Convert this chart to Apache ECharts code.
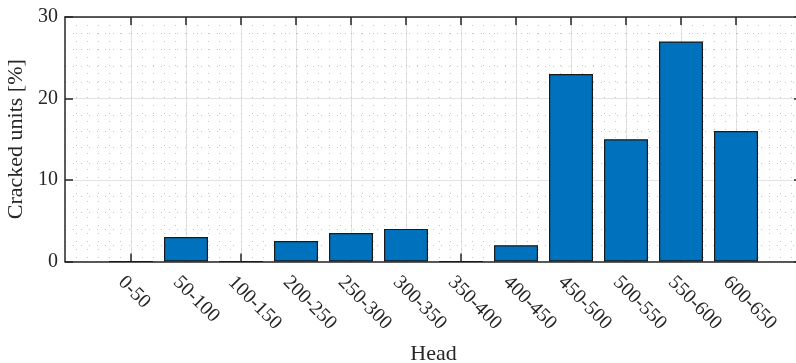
<!DOCTYPE html>
<html>
<head>
<meta charset="utf-8">
<script src="https://cdn.jsdelivr.net/npm/echarts@6/dist/echarts.min.js"></script>
<style>
  html, body { margin: 0; padding: 0; background: #ffffff; }
  #chart { width: 796px; height: 363px; }
</style>
</head>
<body>
<div id="chart"></div>
<script>
// Share of cracked units per head range
const categories = ['0-50', '50-100', '100-150', '200-250', '250-300', '300-350',
                    '350-400', '400-450', '450-500', '500-550', '550-600', '600-650'];
const crackedPct = [0, 3, 0, 2.5, 3.5, 4, 0, 2, 23, 15, 27, 16];
const yTicks = [0, 10, 20, 30];

// categories sit at positions 1..N on a numeric x scale
const catPos = categories.map((c, i) => i + 1);
const barData = crackedPct.map((v, i) => [catPos[i], v]);

const FONT = 'Liberation Serif';
const INK = '#262626';
const X_MIN = -0.2, X_MAX = 13.2;

const chart = echarts.init(document.getElementById('chart'), null, { renderer: 'canvas' });

const axisLineStyle = { color: INK, width: 1.5 };
const tickStyle = { show: true, inside: true, length: 8, lineStyle: { color: INK, width: 1.5 } };
const majorGrid = { show: true, lineStyle: { color: '#e2e2e2', width: 1, type: 'solid' } };
const minorGrid = { show: true, lineStyle: { color: '#c4c4c4', width: 1, type: [1, 7] } };

chart.setOption({
  animation: false,
  backgroundColor: '#ffffff',
  grid: {
    left: 65, top: 17, width: 737, height: 244.5,
    containLabel: false, outerBoundsMode: 'none'
  },
  xAxis: [
    {
      // bottom axis: category ticks, labels and major grid
      type: 'value', position: 'bottom',
      min: X_MIN, max: X_MAX, interval: 0.2,
      axisLine: { show: true, onZero: false, lineStyle: axisLineStyle },
      axisTick: Object.assign({ customValues: catPos }, tickStyle),
      axisLabel: {
        customValues: catPos,
        formatter: v => categories[Math.round(v) - 1] || '',
        rotate: -45, margin: 8,
        verticalAlign: 'top', lineHeight: 28,
        fontFamily: FONT, fontSize: 20, color: INK
      },
      splitLine: majorGrid,
      name: 'Head', nameLocation: 'middle', nameGap: 78,
      nameTextStyle: { fontFamily: FONT, fontSize: 22, color: INK }
    },
    {
      // top frame edge with inward ticks
      type: 'value', position: 'top',
      min: X_MIN, max: X_MAX, interval: 0.2,
      axisLine: { show: true, onZero: false, lineStyle: axisLineStyle },
      axisTick: Object.assign({ customValues: catPos }, tickStyle),
      axisLabel: { show: false },
      splitLine: { show: false }
    },
    {
      // minor dotted vertical grid every 0.2
      type: 'value', position: 'bottom',
      min: X_MIN, max: X_MAX, interval: 0.2,
      axisLine: { show: false }, axisTick: { show: false }, axisLabel: { show: false },
      splitLine: minorGrid
    }
  ],
  yAxis: [
    {
      type: 'value', position: 'left',
      min: yTicks[0], max: yTicks[yTicks.length - 1], interval: 10,
      axisLine: { show: true, onZero: false, lineStyle: axisLineStyle },
      axisTick: tickStyle,
      axisLabel: { margin: 7, fontFamily: FONT, fontSize: 20, color: INK },
      splitLine: majorGrid,
      minorTick: { show: false, splitNumber: 5 },
      minorSplitLine: minorGrid,
      name: 'Cracked units [%]', nameLocation: 'middle', nameGap: 30,
      nameTextStyle: { fontFamily: FONT, fontSize: 22, color: INK }
    },
    {
      type: 'value', position: 'right',
      min: yTicks[0], max: yTicks[yTicks.length - 1], interval: 10,
      axisLine: { show: true, onZero: false, lineStyle: axisLineStyle },
      axisTick: tickStyle,
      axisLabel: { show: false },
      splitLine: { show: false }
    }
  ],
  series: [
    {
      type: 'bar',
      xAxisIndex: 0, yAxisIndex: 0,
      data: barData,
      barWidth: 44,
      itemStyle: { color: '#0072BD', borderColor: '#1a1a1a', borderWidth: 1.2 },
      z: 3
    }
  ]
});
</script>
</body>
</html>
